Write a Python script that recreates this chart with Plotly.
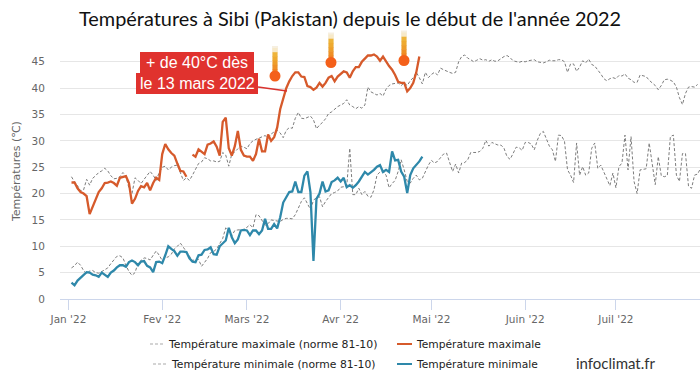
import pandas as pd
import plotly.graph_objects as go

W, H = 700, 378
L, R, T, B = 60, 0, 46, 79

# Daily values in degrees C, the index being the number of days after 1 Jan 2022
norm_max = [23.2,22.2,21.5,20.5,20.7,22.7,21.6,22.9,23.4,24,24.3,24.8,24.3,23.4,22.8,22.9,23.2,24,23.3,21,20,23,22.5,21.9,22.7,23.4,24.2,23.5,22.5,24,25,25.2,24.5,25,25.3,25.4,24,22.5,23,22.5,23.5,24.5,25.7,26,26.8,26.6,26.2,26.2,26,26.1,27.8,27.3,25.2,27.5,27.9,28.5,29,28.8,28.5,29.5,30,30.3,30.5,30.7,31,30.6,31.3,31.7,32,31.5,30.6,32,32.5,32.4,34.3,35.4,34.3,34.2,34.4,34.7,34,32.3,33,33.5,34.2,35.2,35.5,36,36.5,36.8,37.1,37.8,36.8,
            36.5,36.1,36.5,36.2,36.8,40.2,39.3,39,38.7,39,38.5,39.8,40.5,40.8,40.9,41,40.5,41,40.5,41.4,42,43,42,40.8,43,42,42.6,43,42.5,43.8,43.5,43.2,43,42.8,43,45,46,46.3,45.7,45.4,45,45.3,45.6,45.3,45.4,45.1,45.4,45.1,45.2,45.6,46,46.2,45.8,45.2,45,44.9,45.1,45,45.2,45.3,45.4,45,44.9,44.8,45,45.3,45.2,45.2,45.4,45.4,45,43,44.6,44.6,43.2,44,45.2,44.8,45.5,44.5,44.2,43.5,42.7,41.8,41.4,41.8,42,41.8,42.4,42.3,42.7,41.9,41.6,41.1,41.1,42.5,42.3,42.2,41.5,41,40.5,39.7,40.5,41.6,41.7,41.5,41.2,40.2,38.2,36.9,39,40.2,40.3,40.2,40.7]
norm_min = [5.9,6.3,7,6.4,5.4,4.8,5.3,5.4,5,4.9,5.2,5.6,5.9,6.7,7.5,8.1,8.2,7.8,6.4,5.2,4.5,5,6.8,7.4,7.8,7.7,7.4,8.3,9.1,8.3,7.3,7.8,8,8.5,9.5,10,10.6,9.8,9,8,7.3,7.5,7.5,6.2,7,7.7,8.8,9,9.5,10.5,11.5,13.5,13,12,13,13.1,13.2,13.2,13.6,14.1,13.5,16,15.8,15,14,14.3,15,14.9,14.8,14.7,15.1,15.3,15.3,15.2,16,17.4,18.5,19.2,18,17,18.7,19.3,19.4,17.5,18.5,19.3,20,20.2,20.5,21.2,21.3,21.4,28.6,
            19.8,19.8,21,19.8,20.4,19.5,19.3,20.7,23.5,24.1,24.2,23.5,21.1,21.9,22.5,24.2,26.4,24.5,22.3,22,22.9,23.5,22.6,22.9,24.2,25.4,26.3,25.8,26.1,26.7,27.5,27.7,26.1,24.2,25.6,23.9,25.8,25.9,26.4,27.8,27.8,27.8,28,28.6,30.1,29,29.7,29.4,29.2,29.2,28.6,27,26.5,27.6,28.8,28.7,28.2,29.7,29.7,29.4,28.3,30.1,31.4,31.8,30.3,29,28.3,26.1,31.1,31,29.9,24.5,23.5,22.1,29.6,23.5,25.1,23.5,23.9,28.6,29.6,24.8,25.4,24.2,22.9,21.5,23.9,21.1,25.1,25.8,31.1,24.5,30.8,22.3,20,24.5,24.6,24.7,29.6,25.1,21.7,27,23.4,23.2,23.4,30.8,31.1,23.5,22.3,27.6,27.6,21.4,21,23.5,23.7,24.8]
temp_max = [22.1,22.1,21,20.3,20,19.5,16.1,17.5,19,20.3,21,22,22.1,22.3,22,21.5,23,23.2,23.3,22,18.1,19,20.5,21.4,21.2,22,20.6,22,23,22.6,27.5,29.4,28.4,27.7,27.2,25.7,24.3,24.2,23.2,None,
            27.4,27,28.4,28,27.5,29.3,29.5,29.9,28.9,27.2,33.6,34.4,28.6,27.2,29,31.9,28.3,27.2,27,27,26.2,27.5,30.4,28,28,31.2,30,30.7,32.5,36,38,40,41.3,42.3,43,43,42.2,42.1,40.4,40.2,39.7,40.1,41,40.3,41,42,42.3,41.3,42.2,42.8,43.2,43,42,
            43.2,44,44,45,45.6,46.2,46.2,46.4,46,45.2,46,45,44.2,43.5,42.5,41.2,41,41,39.4,40,41,43,46]
temp_min = [3.1,2.6,3.5,4.1,4.5,5.1,5,4.6,4.5,4.2,5,4.6,4.2,5,5.4,6,6.4,6.4,6.1,7,7.3,7,6.4,7.1,7.2,6.3,6,5.1,7,7.1,6.8,8.3,10,9.5,9.1,8.2,9,9,8.9,7.7,7.1,7,8.3,8.4,9.3,9.4,9.8,8.5,8.4,10,10.5,11.1,13.5,11.7,10.6,11.3,13,13.1,13,12.1,13,13,12.3,13,15.2,13.3,13.3,14.2,13.4,15.5,18.3,19.4,20.3,20.4,22.3,20.3,20.3,23.4,24.2,20.3,7.2,19,20,22.3,20.4,20.6,22.2,22.5,23,22.3,23,21.2,21.6,
            21.1,21.6,22.3,23.2,24.1,23.6,24,24.5,25.1,25.4,24.1,24.5,24.1,28,26.3,26.4,24.2,23.2,20.1,23.5,24.8,25.4,26.1,27]
month_ticks = ["2022-01-01","2022-02-01","2022-03-01","2022-04-01","2022-05-01","2022-06-01","2022-07-01"]
month_labels = ["Jan '22","Fev '22","Mars '22","Avr '22","Mai '22","Juin '22","Juil '22"]
y_ticks = [0,5,10,15,20,25,30,35,40,45]

def dates(values):
    return pd.date_range("2022-01-02", periods=len(values), freq="D")

ORANGE, BLUE, DASH = "#d65a2b", "#2e88aa", "#7d7d7d"

fig = go.Figure()
for vals, name in [(norm_max, "Température maximale (norme 81-10)"), (norm_min, "Température minimale (norme 81-10)")]:
    fig.add_trace(go.Scatter(x=dates(vals), y=vals, mode="lines", name=name,
                             line=dict(color=DASH, width=1, dash="3px,2px")))
for vals, name, col in [(temp_max, "Température maximale", ORANGE), (temp_min, "Température minimale", BLUE)]:
    fig.add_trace(go.Scatter(x=dates(vals), y=vals, mode="lines", name=name,
                             line=dict(color=col, width=2.3), connectgaps=False))

def px(x): return (x - L) / (W - L - R)
def py(y): return 1 - (y - T) / (H - T - B)

shapes, notes = [], []
def rect(x0, y0, x1, y1, col):
    shapes.append(dict(type="rect", xref="paper", yref="paper", x0=px(x0), x1=px(x1), y0=py(y1), y1=py(y0),
                       fillcolor=col, line_width=0, layer="above"))
def seg(x0, y0, x1, y1, col, w=1.0, dash="solid"):
    shapes.append(dict(type="line", xref="paper", yref="paper", x0=px(x0), x1=px(x1), y0=py(y0), y1=py(y1),
                       line=dict(color=col, width=w, dash=dash), layer="above"))
def text(x, y, s, size, col, family, anchor="left"):
    notes.append(dict(xref="paper", yref="paper", x=px(x), y=py(y), text=s, showarrow=False, xanchor=anchor, yanchor="middle",
                      font=dict(size=size, color=col, family=family), align=anchor))

# thermometers
for cx, cy in [(275, 76), (331, 62.5), (404, 60.5)]:
    rect(cx-3, cy-30, cx+3, cy-3, "#f6efe0")
    for i, c in enumerate(["#f7e9c8","#eeb43a","#eeaa30","#ee9e2a","#ef9026","#f08222"]):
        rect(cx-2.5, cy-28+i*4.2, cx+2.5, cy-28+(i+1)*4.2+0.5, c)
    shapes.append(dict(type="circle", xref="paper", yref="paper", x0=px(cx-5.5), x1=px(cx+5.5), y0=py(cy+5.5), y1=py(cy-5.5),
                       fillcolor="#f4601a", line_width=0, layer="above"))

# callout
seg(258, 87, 287, 91, "#d9322e", 1.5)
rect(140, 52, 254, 73, "#e0322e")
rect(136, 73, 258, 94, "#e0322e")
text(197, 62.5, "+ de 40°C dès", 16, "white", "Liberation Sans", "center")
text(197, 83, "le 13 mars 2022", 16, "white", "Liberation Sans", "center")

# legend
LF = "DejaVu Sans"
seg(150, 344, 164, 344, "#aaaaaa", 1.2, "3px,2px")
seg(153, 364, 167, 364, "#aaaaaa", 1.2, "3px,2px")
seg(397, 344, 412, 344, ORANGE, 2)
seg(397, 364, 412, 364, BLUE, 2)
text(166, 344, "Température maximale (norme 81-10)", 10.9, "#222222", LF)
text(169, 364, "Température minimale (norme 81-10)", 10.8, "#222222", LF)
text(414, 344, "Température maximale", 10.7, "#222222", LF)
text(414, 364, "Température minimale", 10.7, "#222222", LF)
text(574, 363, "infoclimat.fr", 15, "#333333", "Lato")

# title and y-axis title
text(350, 18, "Températures à Sibi (Pakistan) depuis le début de l'année 2022", 19.9, "#111111", "Lato", "center")
notes.append(dict(xref="paper", yref="paper", x=px(16), y=py(172), text="Températures (℃)", textangle=-90, showarrow=False,
                  xanchor="center", yanchor="middle", font=dict(size=11, color="#666666", family=LF)))

x0 = pd.Timestamp("2022-01-01") + pd.Timedelta(days=-2.8)
x1 = pd.Timestamp("2022-01-01") + pd.Timedelta(days=208.8)
fig.update_layout(
    width=W, height=H, margin=dict(l=L, r=R, t=T, b=B), paper_bgcolor="white", plot_bgcolor="white",
    showlegend=False, shapes=shapes, annotations=notes, hovermode=False,
    xaxis=dict(range=[x0, x1], tickmode="array", tickvals=month_ticks, ticktext=month_labels, showgrid=False,
               ticks="outside", ticklen=10, tickwidth=1, tickcolor="#ccd6eb", showline=True, linecolor="#ccd6eb", linewidth=1,
               tickfont=dict(size=10.5, color="#666666", family=LF), zeroline=False),
    yaxis=dict(range=[0, 48], tickmode="array", tickvals=y_ticks, showgrid=True, gridcolor="#e6e6e6", gridwidth=1, zeroline=False,
               ticks="outside", ticklen=12, tickcolor="rgba(0,0,0,0)", showline=False,
               tickfont=dict(size=10.5, color="#666666", family=LF)),
)
fig.write_html("out.html", config={"displayModeBar": False},
               post_script="document.body.style.margin='0';document.documentElement.style.overflow='hidden';")
